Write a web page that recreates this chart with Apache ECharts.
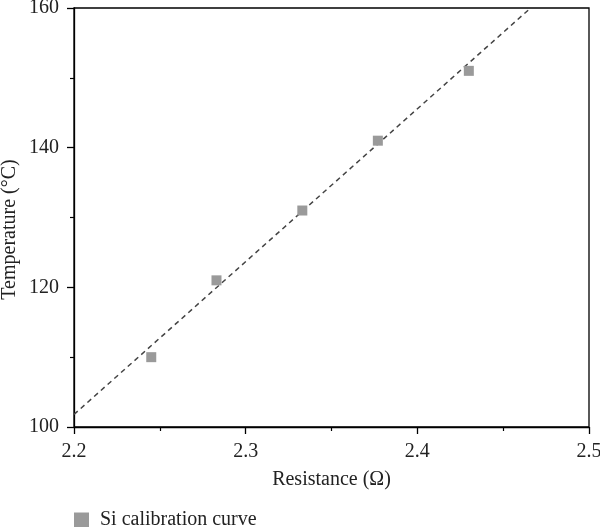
<!DOCTYPE html>
<html><head><meta charset="utf-8">
<script src="https://cdn.jsdelivr.net/npm/echarts@6/dist/echarts.min.js"></script>
<style>html,body{margin:0;padding:0;background:#fff}#c{width:600px;height:527px}</style>
</head><body><div id="c"></div>
<script>
const resistance = [2.245, 2.283, 2.333, 2.377, 2.430];
const temperature = [110, 121, 131, 141, 151];
const fitLine = [[2.2, 101.8], [2.466, 160]];
const xTicks = [2.2, 2.3, 2.4, 2.5];
const yTicks = [100, 120, 140, 160];
const seriesName = 'Si calibration curve';

const FONT = '"Liberation Serif", "DejaVu Serif", serif';
const chart = echarts.init(document.getElementById('c'));
chart.setOption({
  animation: false,
  grid: {left: 74, right: 11, top: 8, bottom: 100, outerBoundsMode: 'none', containLabel: false,
         show: true, borderColor: '#000', borderWidth: 1.3, backgroundColor: 'transparent'},
  legend: {
    data: [{name: seriesName, icon: 'rect'}],
    left: 74, top: 510, padding: 0, itemWidth: 15, itemHeight: 15, itemGap: 10,
    textStyle: {fontFamily: FONT, fontSize: 20, color: '#222', padding: [0, 0, 0, 6]}
  },
  xAxis: {
    type: 'value', min: xTicks[0], max: xTicks[xTicks.length-1], interval: 0.1,
    name: 'Resistance (Ω)', nameLocation: 'middle', nameGap: 43, nameMoveOverlap: false,
    nameTextStyle: {fontFamily: FONT, fontSize: 20, color: '#222'},
    axisLine: {show: true, lineStyle: {color: '#000', width: 1.3}},
    axisTick: {show: true, inside: false, length: 7, lineStyle: {color: '#000', width: 1.3}},
    minorTick: {show: true, splitNumber: 2, length: 4, lineStyle: {color: '#000', width: 1.2}},
    splitLine: {show: false},
    axisLabel: {fontFamily: FONT, fontSize: 20, color: '#222', margin: 15, formatter: v => v.toFixed(1)}
  },
  yAxis: {
    type: 'value', min: yTicks[0], max: yTicks[yTicks.length-1], interval: 20,
    name: 'Temperature (°C)', nameLocation: 'middle', nameGap: 54, nameMoveOverlap: false,
    nameTextStyle: {fontFamily: FONT, fontSize: 20, color: '#222', padding: [0, 24, 0, 0]},
    axisLine: {show: true, lineStyle: {color: '#000', width: 1.3}},
    axisTick: {show: true, inside: false, length: 7, lineStyle: {color: '#000', width: 1.3}},
    minorTick: {show: true, splitNumber: 2, length: 4, lineStyle: {color: '#000', width: 1.2}},
    splitLine: {show: false},
    axisLabel: {fontFamily: FONT, fontSize: 20, color: '#222', margin: 15}
  },
  series: [
    {
      name: 'fit', type: 'line', data: fitLine, symbol: 'none', silent: true,
      lineStyle: {color: '#444', width: 1.5, type: [5, 4]}, z: 1
    },
    {
      name: seriesName, type: 'scatter', symbol: 'rect', symbolSize: 10,
      data: resistance.map((x, i) => [x, temperature[i]]),
      itemStyle: {color: '#9a9a9a', opacity: 1}, z: 2
    }
  ]
});
</script></body></html>
